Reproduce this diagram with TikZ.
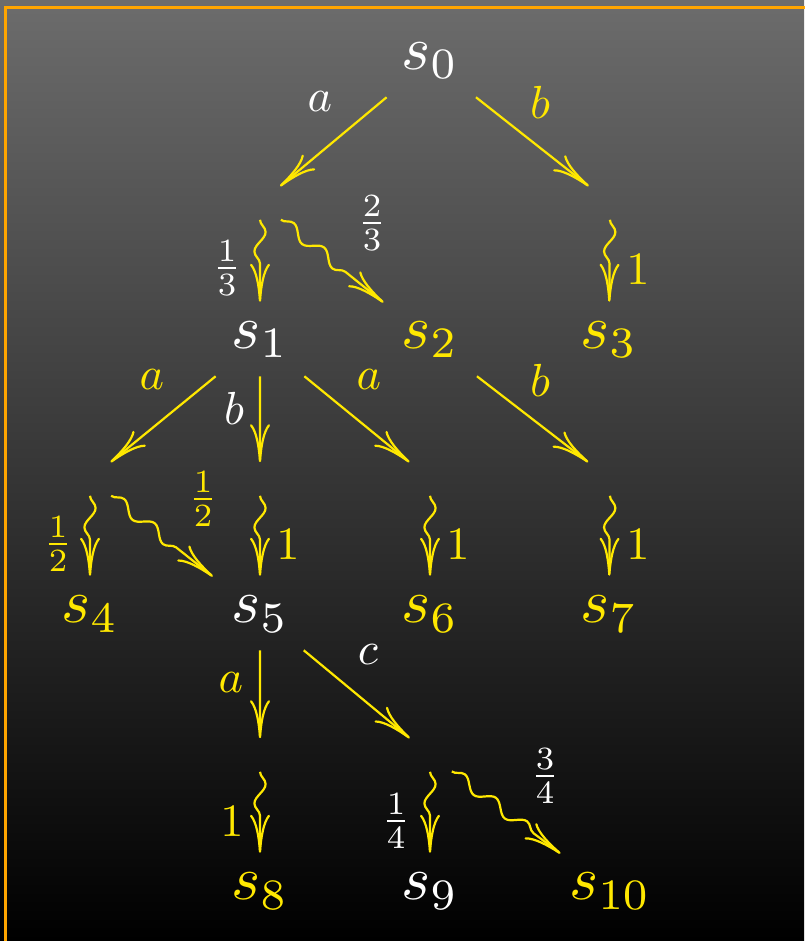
\documentclass[tikz,border=0pt]{standalone}
\usetikzlibrary{arrows.meta,decorations.pathmorphing}
\definecolor{ylw}{RGB}{255,232,0}
\definecolor{frm}{RGB}{255,165,0}
\definecolor{bgtop}{RGB}{108,108,108}
\tikzset{
  state/.style={rectangle, minimum width=16.1pt, minimum height=11.3pt, inner sep=0pt,
    scale=1.55, transform shape},
  dist/.style={rectangle, minimum width=10.5pt, minimum height=8pt, inner sep=0pt},
  lbl/.style={inner sep=0pt, scale=1.16, transform shape},
  act/.style={draw=ylw, line width=0.55pt,
    -{Computer Modern Rightarrow[length=9.5pt,width=5pt]}},
  prob/.style={act, decorate,
    decoration={snake, amplitude=1.4pt, segment length=9.75pt, post length=8pt},
    shorten >=0.5pt},
  wht/.style={text=white},
  yel/.style={text=ylw}
}
\begin{document}
\begin{tikzpicture}[x=0.25pt,y=-0.25pt]
\useasboundingbox (0,0) rectangle (804,941);
\shade[top color=bgtop, bottom color=black] (0,0) rectangle (804,941);
\draw[frm, line width=0.75pt] (5.5,945) -- (5.5,7.2) -- (810,7.2);

% states
\node[state,wht] (s0) at (430,61) {$s_0$};
\node[state,wht] (s1) at (260,340) {$s_1$};
\node[state,yel] (s2) at (430,340) {$s_2$};
\node[state,yel] (s3) at (609,340) {$s_3$};
\node[state,yel] (s4) at (90,614) {$s_4$};
\node[state,wht] (s5) at (260,614) {$s_5$};
\node[state,yel] (s6) at (430,614) {$s_6$};
\node[state,yel] (s7) at (609,614) {$s_7$};
\node[state,yel] (s8) at (260,891) {$s_8$};
\node[state,wht] (s9) at (430,891) {$s_9$};
\node[state,yel] (s10) at (610,891) {$s_{10}$};

% distribution points
\node[dist] (d0) at (260,203) {};
\node[dist] (d1) at (610,203) {};
\node[dist] (d2) at (90,479) {};
\node[dist] (d3) at (260,479) {};
\node[dist] (d4) at (430,479) {};
\node[dist] (d5) at (610,479) {};
\node[dist] (d6) at (260,755) {};
\node[dist] (d7) at (430,755) {};

% action arrows
\draw[act] (s0) -- (d0);
\draw[act] (s0) -- (d1);
\draw[act] (s1) -- (d2);
\draw[act] (s1) -- (d3);
\draw[act] (s1) -- (d4);
\draw[act] (s2) -- (d5);
\draw[act] (s5) -- (d6);
\draw[act] (s5) -- (d7);

% probabilistic arrows
\draw[prob] (d0) -- (s1);
\draw[prob] (d0) -- (s2);
\draw[prob] (d1) -- (s3);
\draw[prob] (d2) -- (s4);
\draw[prob] (d2) -- (s5);
\draw[prob] (d3) -- (s5);
\draw[prob] (d4) -- (s6);
\draw[prob] (d5) -- (s7);
\draw[prob] (d6) -- (s8);
\draw[prob] (d7) -- (s9);
\draw[prob] (d7) -- (s10);

% action labels
\node[lbl,wht] (la0) at (320,102) {$a$};
\node[lbl,yel] (lb0) at (540,102) {$b$};
\node[lbl,yel] (la1) at (152,380) {$a$};
\node[lbl,wht] (lb1) at (234,408) {$b$};
\node[lbl,yel] (la2) at (369,380) {$a$};
\node[lbl,yel] (lb2) at (540,380) {$b$};
\node[lbl,yel] (la5) at (231,683) {$a$};
\node[lbl,wht] (lc5) at (368,655) {$c$};

% probability labels
\node[lbl,wht] (p01) at (227,268) {$\frac{1}{3}$};
\node[lbl,wht] (p02) at (372,223) {$\frac{2}{3}$};
\node[lbl,yel] (p13) at (638,270) {$1$};
\node[lbl,yel] (p24) at (58,544) {$\frac{1}{2}$};
\node[lbl,yel] (p25) at (203,499) {$\frac{1}{2}$};
\node[lbl,yel] (p35) at (288,545) {$1$};
\node[lbl,yel] (p46) at (458,545) {$1$};
\node[lbl,yel] (p57) at (638,545) {$1$};
\node[lbl,yel] (p68) at (232,822) {$1$};
\node[lbl,wht] (p79) at (396,821) {$\frac{1}{4}$};
\node[lbl,wht] (p710) at (545,776) {$\frac{3}{4}$};
\end{tikzpicture}
\end{document}
